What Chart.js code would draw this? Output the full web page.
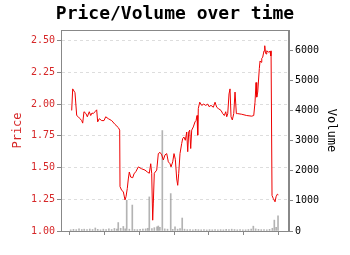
<!DOCTYPE html>
<html>
<head>
<meta charset="utf-8">
<script src="https://cdn.jsdelivr.net/npm/chart.js@4.4.1/dist/chart.umd.min.js"></script>
<style>
  html, body { margin: 0; padding: 0; background: #fff; }
  #wrap { width: 350px; height: 255px; }
</style>
</head>
<body>
<div id="wrap"><canvas id="chart"></canvas></div>
<script>
// time index (unlabelled x ticks every 10 units)
const days = [0.49, 0.78, 1.44, 1.93, 2.39, 2.88, 3.37, 3.66, 4.03, 4.61, 4.99, 5.56, 5.97, 6.34, 6.71, 7.20, 7.69, 7.98, 8.44, 9.14,
    9.80, 10.29, 11.04, 12.02, 12.97, 13.92, 14.32, 14.41, 14.90, 15.36, 15.85, 16.14, 16.51, 16.80, 17.09, 17.49, 18.07, 18.44, 19.02, 19.68,
    20.66, 21.61, 22.28, 22.85, 23.26, 23.54, 23.83, 24.01, 24.29, 24.99, 25.45, 25.94, 26.43, 26.89, 27.38, 27.87, 28.33, 28.82, 29.11, 29.60,
    29.97, 30.35, 30.75, 31.04, 31.33, 31.70, 32.19, 32.48, 32.85, 33.23, 33.63, 33.92, 34.21, 34.50, 34.78, 35.07, 35.53, 36.02, 36.31, 36.60,
    36.80, 36.97, 37.38, 37.95, 38.53, 39.11, 39.68, 40.06, 40.63, 41.30, 41.79, 42.28, 42.74, 43.52, 44.01, 44.47, 44.87, 45.16, 45.45, 45.82,
    46.11, 46.40, 46.77, 47.18, 47.55, 47.93, 48.33, 49.48, 50.92, 52.36, 52.94, 53.31, 53.60, 53.80, 54.09, 54.55, 54.76, 55.04, 55.25, 55.53,
    55.71, 55.91, 56.11, 56.28, 56.48, 56.69, 57.15, 57.64, 57.84, 57.93, 58.21, 58.59, 59.08, 59.37, 59.74, 60.03];
const price = [1.95, 2.12, 2.09, 1.91, 1.90, 1.885, 1.87, 1.85, 1.94, 1.925, 1.90, 1.94, 1.91, 1.93, 1.925, 1.94, 1.955, 1.86, 1.885, 1.87,
    1.87, 1.90, 1.885, 1.87, 1.84, 1.815, 1.795, 1.35, 1.32, 1.31, 1.245, 1.27, 1.335, 1.41, 1.465, 1.425, 1.42, 1.45, 1.47, 1.505,
    1.49, 1.48, 1.465, 1.455, 1.53, 1.455, 1.085, 1.22, 1.455, 1.48, 1.61, 1.62, 1.60, 1.56, 1.60, 1.61, 1.545, 1.53, 1.505, 1.545,
    1.61, 1.565, 1.41, 1.36, 1.455, 1.61, 1.69, 1.73, 1.74, 1.715, 1.78, 1.625, 1.78, 1.795, 1.65, 1.795, 1.82, 1.86, 1.87, 1.91,
    1.755, 1.965, 2.015, 1.99, 2.00, 1.99, 2.00, 1.98, 1.99, 1.975, 2.015, 1.975, 1.965, 1.95, 1.925, 1.91, 1.94, 1.90, 1.925, 2.08,
    2.12, 1.90, 1.875, 1.925, 2.095, 1.925, 1.925, 1.92, 1.91, 1.905, 1.91, 2.015, 2.17, 2.055, 2.095, 2.28, 2.34, 2.33, 2.36, 2.37,
    2.395, 2.42, 2.46, 2.41, 2.395, 2.42, 2.41, 2.415, 2.38, 2.42, 1.28, 1.255, 1.23, 1.27, 1.29, 1.285];

const volDays = [0.2, 1.0, 1.8, 2.6, 3.4, 4.1, 4.9, 5.7, 6.5, 7.29, 8.0, 8.8, 9.6, 10.4, 11.2, 12.0, 12.8, 13.5, 13.9, 14.6,
    15.36, 15.9, 16.34, 17.1, 17.95, 18.6, 19.4, 20.2, 21.0, 21.8, 22.4, 22.85, 23.6, 24.3, 25.07, 25.45, 25.9, 26.6, 27.3, 28.1,
    29.02, 29.6, 30.26, 31.0, 31.7, 32.33, 33.0, 33.8, 34.6, 35.4, 36.2, 37.0, 37.8, 38.6, 39.4, 40.2, 41.0, 41.8, 42.6, 43.4,
    44.2, 45.0, 45.8, 46.6, 47.4, 48.2, 49.0, 49.8, 50.6, 51.4, 52.2, 52.82, 53.5, 54.3, 55.1, 55.9, 56.7, 57.5, 58.3, 58.87,
    59.4, 59.94];
const volume = [40, 55, 45, 70, 50, 60, 45, 65, 50, 100, 55, 40, 60, 45, 70, 50, 85, 60, 280, 90,
    150, 70, 1020, 60, 860, 50, 45, 55, 60, 70, 90, 1130, 80, 110, 140, 165, 120, 3330, 70, 60,
    1240, 55, 140, 60, 80, 430, 60, 45, 50, 40, 55, 45, 40, 50, 35, 45, 40, 50, 35, 45,
    40, 55, 45, 60, 50, 40, 45, 35, 40, 50, 60, 160, 70, 55, 45, 50, 40, 55, 90, 360,
    120, 500];

const xTicks = [0, 10, 20, 30, 40, 50, 60];
const priceTicks = [1.00, 1.25, 1.50, 1.75, 2.00, 2.25, 2.50];
const volumeTicks = [0, 1000, 2000, 3000, 4000, 5000, 6000];

const mono = "'DejaVu Sans Mono', monospace";
const priceColor = '#d62728';
const frameColor = '#888888';

// matplotlib-like box round the plot
const framePlugin = {
    id: 'frame',
    afterDatasetsDraw(chart) {
        const {ctx, chartArea: a} = chart;
        ctx.save();
        ctx.strokeStyle = frameColor;
        ctx.lineWidth = 1;
        ctx.strokeRect(a.left + 0.5, a.top + 0.5, a.right - a.left - 1, a.bottom - a.top);
        ctx.restore();
    }
};

new Chart(document.getElementById('chart'), {
    data: {
        datasets: [
            {
                type: 'line',
                label: 'Price',
                data: days.map((d, i) => ({x: d, y: price[i]})),
                yAxisID: 'y',
                borderColor: '#ee0000',
                borderWidth: 1,
                pointRadius: 0,
                tension: 0,
                order: 0,
            },
            {
                type: 'bar',
                label: 'Volume',
                data: volDays.map((d, i) => ({x: d, y: volume[i]})),
                yAxisID: 'y1',
                backgroundColor: 'rgba(128,128,128,0.6)',
                barThickness: 1,
                order: 1,
            },
        ],
    },
    options: {
        responsive: true,
        maintainAspectRatio: false,
        animation: false,
        layout: {padding: 0},
        plugins: {
            legend: {display: false},
            tooltip: {enabled: false},
            title: {
                display: true,
                text: 'Price/Volume over time',
                color: '#000',
                font: {family: mono, size: 18, weight: 'bold', lineHeight: 1.2},
                padding: {top: 4, bottom: 4.4},
            },
        },
        scales: {
            x: {
                type: 'linear',
                offset: false,
                min: -2.59,
                max: 63.1,
                afterFit: (s) => { s.height = 24; },
                afterBuildTicks: (s) => { s.ticks = xTicks.map(v => ({value: v})); },
                ticks: {callback: () => '', padding: 0},
                grid: {drawOnChartArea: false, offset: false, tickLength: 4, tickColor: frameColor},
                border: {color: frameColor},
            },
            y: {
                type: 'linear',
                position: 'left',
                min: 1.0,
                max: 2.584,
                afterFit: (s) => { s.width = 61; },
                afterBuildTicks: (s) => { s.ticks = priceTicks.map(v => ({value: v})); },
                ticks: {
                    color: priceColor,
                    font: {family: mono, size: 10},
                    padding: 2,
                    callback: (v) => v.toFixed(2),
                },
                grid: {
                    color: '#dddddd',
                    tickLength: 4,
                    tickColor: frameColor,
                    tickBorderDash: [],
                },
                border: {color: frameColor, dash: [3, 3]},
                title: {
                    display: true,
                    text: 'Price',
                    color: priceColor,
                    font: {family: mono, size: 12},
                    padding: {top: 11},
                },
            },
            y1: {
                type: 'linear',
                position: 'right',
                min: 0,
                max: 6664,
                afterFit: (s) => { s.width = 61; },
                afterBuildTicks: (s) => { s.ticks = volumeTicks.map(v => ({value: v})); },
                ticks: {
                    color: '#000',
                    font: {family: mono, size: 10},
                    padding: 2,
                    callback: (v) => String(v),
                },
                grid: {drawOnChartArea: false, tickLength: 4, tickColor: frameColor},
                border: {color: frameColor},
                title: {
                    display: true,
                    text: 'Volume',
                    color: '#000',
                    font: {family: mono, size: 12},
                    padding: {top: 12},
                },
            },
        },
    },
    plugins: [framePlugin],
});
</script>
</body>
</html>
